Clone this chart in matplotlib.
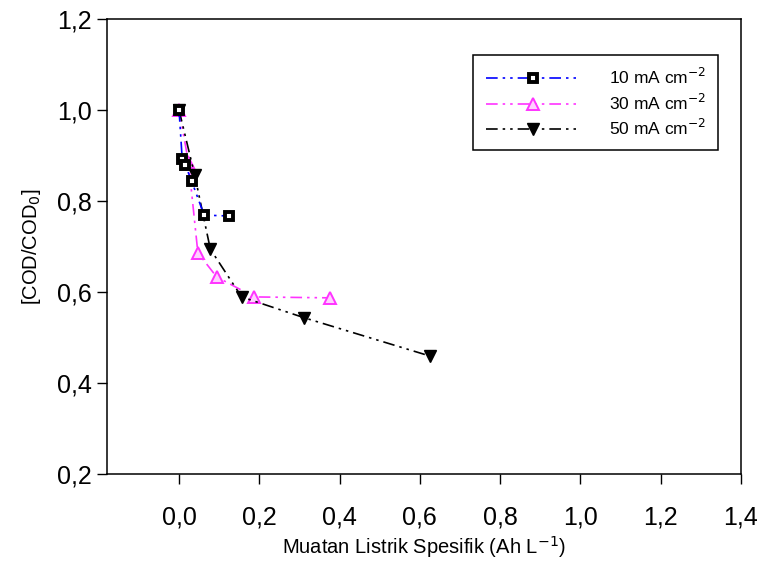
import matplotlib.pyplot as plt
from matplotlib.ticker import FuncFormatter

plt.rcParams['font.family'] = ['Liberation Sans', 'DejaVu Sans']

# specific charge (Ah/L) and normalised COD for each current density
x_10 = [0, 0.0078, 0.0156, 0.03125, 0.0625, 0.125]
y_10 = [1.0, 0.893, 0.879, 0.844, 0.769, 0.767]

x_30 = [0, 0.0234, 0.0469, 0.09375, 0.1875, 0.375]
y_30 = [1.0, 0.886, 0.686, 0.633, 0.589, 0.587]

x_50 = [0, 0.039, 0.078, 0.156, 0.3125, 0.625]
y_50 = [1.0, 0.857, 0.694, 0.589, 0.543, 0.459]

labels = ['10 mA cm$^{-2}$', '30 mA cm$^{-2}$', '50 mA cm$^{-2}$']

fig = plt.figure(figsize=(7.63, 5.64), dpi=100)
ax = fig.add_axes([0.140, 0.160, 0.831, 0.806])

dashdotdot = (0, (7, 3, 1.5, 3, 1.5, 3))

ax.plot(x_10, y_10, color='blue', linestyle=dashdotdot, linewidth=1.2,
        marker='s', markersize=6, markerfacecolor='white',
        markeredgecolor='black', markeredgewidth=2.8, label=labels[0], zorder=4)
ax.plot(x_30, y_30, color='#ff33ff', linestyle=dashdotdot, linewidth=1.2,
        marker='^', markersize=8, markerfacecolor='#ffd0ff',
        markeredgecolor='#ff33ff', markeredgewidth=1.4, label=labels[1], zorder=3)
ax.plot(x_50, y_50, color='black', linestyle=dashdotdot, linewidth=1.2,
        marker='v', markersize=9, markerfacecolor='black',
        markeredgecolor='black', label=labels[2], zorder=3)

ax.set_xlim(-0.18, 1.4)
ax.set_ylim(0.2, 1.2)
ax.set_xticks([0, 0.2, 0.4, 0.6, 0.8, 1.0, 1.2, 1.4])
ax.set_yticks([0.2, 0.4, 0.6, 0.8, 1.0, 1.2])
comma = FuncFormatter(lambda v, p: f'{v:.1f}'.replace('.', ','))
ax.xaxis.set_major_formatter(comma)
ax.yaxis.set_major_formatter(comma)
ax.tick_params(direction='out', length=7, width=1, labelsize=18)
ax.tick_params(axis='x', pad=16)
ax.tick_params(axis='y', pad=4)
ax.tick_params(top=False, right=False)
for s in ax.spines.values():
    s.set_linewidth(1.1)

ax.set_xlabel('Muatan Listrik Spesifik (Ah L$^{-1}$)', fontsize=14.5, labelpad=3)
ax.set_ylabel('[COD/COD$_0$]', fontsize=14.5, labelpad=10)

leg = ax.legend(loc='upper right', bbox_to_anchor=(0.964, 0.921), fontsize=12.5,
                handlelength=5.5, handletextpad=1.6, labelspacing=0.3,
                fancybox=False, edgecolor='black', framealpha=1,
                borderpad=0.7, borderaxespad=0)
leg.get_frame().set_linewidth(1.1)

fig.savefig('out.png', dpi=100)
